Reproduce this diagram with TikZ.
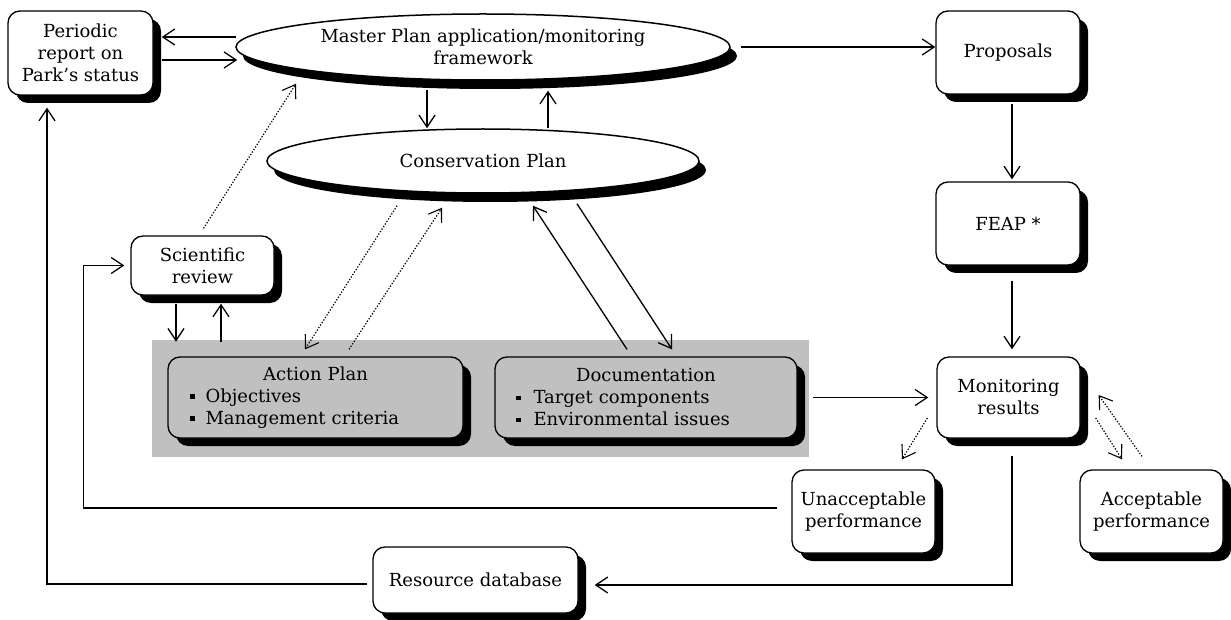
\documentclass[tikz,border=0pt]{standalone}
\usepackage{fontspec}
\setmainfont{DejaVu Serif}
\usetikzlibrary{arrows.meta,shadows,shapes.geometric}
\definecolor{grayfill}{RGB}{192,192,192}
\newcommand\sqb{\rule[3.5pt]{4.5pt}{4.5pt}}
\begin{document}
\begin{tikzpicture}[x=1pt,y=-1pt,
  font=\fontsize{18}{22}\selectfont,
  box/.style={draw, line width=1.3pt, rounded corners=12pt, fill=white, align=center, inner sep=0pt,
    drop shadow={shadow xshift=8pt,shadow yshift=-8pt,opacity=1,fill=black}},
  oval/.style={ellipse, draw, line width=1.5pt, fill=white, inner sep=0pt, align=center,
    drop shadow={shadow xshift=7pt,shadow yshift=-9pt,opacity=1,fill=black}},
  arr/.style={line width=1.3pt, -{Straight Barb[length=12pt,width=16pt,line width=1.3pt]}},
  dotarr/.style={line width=1.2pt, dash pattern=on 1.3pt off 1.7pt, -{Straight Barb[length=12pt,width=16pt,line width=1.1pt]}},
  plain/.style={line width=1.3pt}]
\useasboundingbox (0,0) rectangle (1231,620);

% gray group
\node[fill=grayfill, minimum width=657pt, minimum height=117pt, inner sep=0pt] (grp) at (480.5,398.5) {};

% nodes
\node[box, minimum width=145pt, minimum height=84pt] (periodic) at (80.5,53) {Periodic\\report on\\Park's status};
\node[oval, minimum width=494pt, minimum height=66pt] (master) at (483,47) {Master Plan application/monitoring\\framework};
\node[box, minimum width=144pt, minimum height=83pt] (proposals) at (1008,52.5) {Proposals};
\node[oval, minimum width=432pt, minimum height=64pt] (conservation) at (483,161) {Conservation Plan};
\node[box, minimum width=143pt, minimum height=59pt] (sci) at (202.5,265.5) {Scientific\\review};
\node[box, fill=grayfill, minimum width=295pt, minimum height=81pt, text width=295pt, align=left] (action) at (315.5,397.5)
  {\makebox[295pt]{Action Plan}\\\hspace*{22pt}\sqb\hspace{11pt}Objectives\\\hspace*{22pt}\sqb\hspace{11pt}Management criteria};
\node[box, fill=grayfill, minimum width=302pt, minimum height=81pt, text width=302pt, align=left] (doc) at (646,397.5)
  {\makebox[302pt]{Documentation}\\\hspace*{21pt}\sqb\hspace{13pt}Target components\\\hspace*{21pt}\sqb\hspace{13pt}Environmental issues};
\node[box, minimum width=144pt, minimum height=83pt] (feap) at (1008,223.5) {FEAP *};
\node[box, minimum width=143pt, minimum height=81pt] (monitor) at (1008.5,397.5) {Monitoring\\results};
\node[box, minimum width=143pt, minimum height=83pt] (unacc) at (863.5,511.5) {Unacceptable\\performance};
\node[box, minimum width=143pt, minimum height=83pt] (acc) at (1151.5,511.5) {Acceptable\\performance};
\node[box, minimum width=205pt, minimum height=66pt] (resource) at (475.5,580) {Resource database};

% connectors
\draw[arr] ([shift={(1,-10)}]master.west) -- ([shift={(8,-16)}]periodic.east);
\draw[arr] ([shift={(8,7)}]periodic.east) -- ([shift={(2,13)}]master.west);
\draw[arr] ([shift={(10,0)}]master.east) -- (proposals.west |- master.east);
\draw[arr] ([shift={(-56,9)}]master.south) -- ([shift={(-56,0)}]conservation.north);
\draw[arr] ([shift={(65,0)}]conservation.north) -- ([shift={(65,10)}]master.south);
\draw[dotarr] ([shift={(1,-7)}]sci.north) -- ([shift={(-187,3)}]master.south);
\draw[dotarr] ([shift={(-86,12)}]conservation.south) -- ([shift={(-10.5,-7)}]action.north);
\draw[dotarr] ([shift={(33.5,-7)}]action.north) -- ([shift={(-41,14)}]conservation.south);
\draw[arr] ([shift={(-19,-7)}]doc.north) -- ([shift={(50,12)}]conservation.south);
\draw[arr] ([shift={(94,10)}]conservation.south) -- ([shift={(26,-7)}]doc.north);
\draw[arr] ([shift={(-26.5,8)}]sci.south) -- ([shift={(-26.5,46)}]sci.south);
\draw[arr] ([shift={(18.5,46)}]sci.south) -- ([shift={(18.5,8)}]sci.south);
\draw[arr] ([shift={(4,-1)}]grp.east) -- ([shift={(-8,0)}]monitor.west);
\draw[arr] ([shift={(4,9)}]proposals.south) -- ([shift={(4,-2)}]feap.north);
\draw[arr] ([shift={(4,15)}]feap.south) -- ([shift={(3.5,-7)}]monitor.north);
\draw[dotarr] ([shift={(-9,20.5)}]monitor.west) -- ([shift={(38.5,-10)}]unacc.north);
\draw[dotarr] ([shift={(15,20.5)}]monitor.east) -- ([shift={(-29.5,-10)}]acc.north);
\draw[dotarr] ([shift={(-9.5,-13)}]acc.north) -- ([shift={(18,-2.5)}]monitor.east);
\draw[arr] ([shift={(3.5,17)}]monitor.south) |- ([shift={(16,5)}]resource.east);
\draw[arr] ([shift={(-14,-3.5)}]unacc.west) -| ([shift={(-47,0)}]sci.west) -- ([shift={(-6,0)}]sci.west);
\draw[arr] ([shift={(-5,4)}]resource.west) -| ([shift={(-33.5,12)}]periodic.south);
\end{tikzpicture}
\end{document}
